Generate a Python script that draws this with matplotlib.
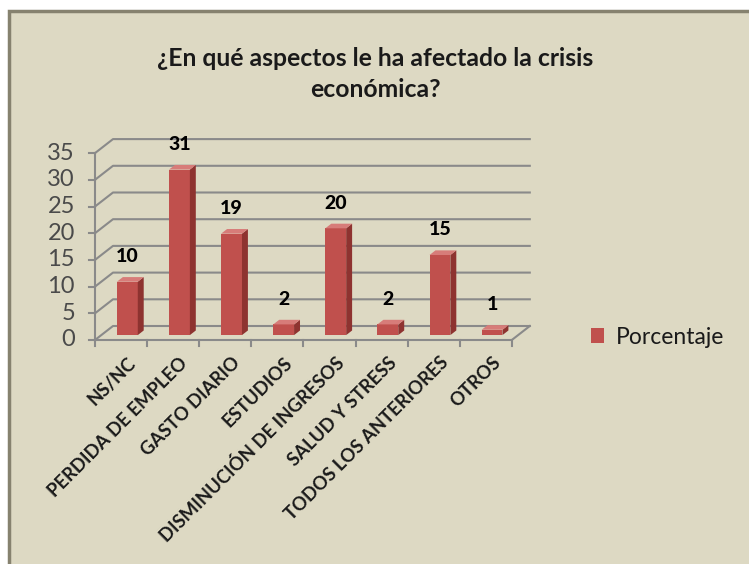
import matplotlib.pyplot as plt
import numpy as np
from matplotlib.patches import Polygon, Rectangle

categories = ["NS/NC", "PERDIDA DE EMPLEO", "GASTO DIARIO", "ESTUDIOS",
              "DISMINUCIÓN DE INGRESOS", "SALUD Y STRESS",
              "TODOS LOS ANTERIORES", "OTROS"]
values = [10, 31, 19, 2, 20, 2, 15, 1]
yticks = [0, 5, 10, 15, 20, 25, 30, 35]
series_name = "Porcentaje"
title = "¿En qué aspectos le ha afectado la crisis\neconómica?"

plt.rcParams['font.family'] = ['Lato', 'DejaVu Sans']

W, H = 749, 564
bg = "#DDD9C3"
grid_c = "#8A8A8A"
red = "#C0504D"
red_side = "#8E3330"
red_top = "#D77C79"

fig = plt.figure(figsize=(W / 100, H / 100), dpi=100)
fig.patch.set_facecolor("white")
fig.patches.append(Rectangle((9 / W, -0.1), 1.2, 1 - 11 / H + 0.1, transform=fig.transFigure,
                             facecolor=bg, edgecolor="#86826F", linewidth=2.5, zorder=-10))

# axes placed in pixels: x=-0.5 -> 95px, 52.1 px per category; y=0 -> 340px, 5.34 px per unit
ax_l, ax_r, ax_t, ax_b = 60, 600, 110, 370
px_x, px_y = 52.1, 5.34
ax = fig.add_axes([ax_l / W, 1 - ax_b / H, (ax_r - ax_l) / W, (ax_b - ax_t) / H])
ax.set_xlim(-0.5 - (95 - ax_l) / px_x, -0.5 + (ax_r - 95) / px_x)
ax.set_ylim(-(ax_b - 340) / px_y, (340 - ax_t) / px_y)
ax.axis("off")
ax.patch.set_alpha(0)

dx, dy = 18 / px_x, 14 / px_y   # depth of the 3d box
x0, x1 = -0.5, len(categories) - 0.5

# walls / gridlines
for v in yticks:
    ax.plot([x0, x0 + dx, x1 + dx], [v, v + dy, v + dy], color=grid_c, lw=1.5, zorder=1)
    ax.plot([x0 - 6 / px_x, x0], [v, v], color=grid_c, lw=1.5, zorder=1)
    ax.text(x0 - 20 / px_x, v, str(v), ha="right", va="center", fontsize=17, color="#4A4A4A")
ax.plot([x0, x0], [0, yticks[-1]], color=grid_c, lw=1.5, zorder=1)
ax.plot([x0, x1, x1 + dx], [0, 0, dy], color=grid_c, lw=1.5, zorder=1)
for b in np.arange(x0, x1 + 0.01, 1.0):
    ax.plot([b, b], [0, -6 / px_y], color=grid_c, lw=1.5, zorder=1)

# bars
f, d, w = 0.35, 0.33, 0.40
xs = np.arange(len(categories))
xb = xs + f * dx
yb = f * dy
ax.bar(xb, values, width=w, bottom=yb, color=red, zorder=3, label=series_name)
for xc, v in zip(xb, values):
    xl, xr, top = xc - w / 2, xc + w / 2, yb + v
    ax.add_patch(Polygon([(xr, yb), (xr + d * dx, yb + d * dy), (xr + d * dx, top + d * dy), (xr, top)],
                         closed=True, facecolor=red_side, edgecolor="none", zorder=3))
    ax.add_patch(Polygon([(xl, top), (xr, top), (xr + d * dx, top + d * dy), (xl + d * dx, top + d * dy)],
                         closed=True, facecolor=red_top, edgecolor="none", zorder=3))
    ax.text(xc, top + d * dy + 12 / px_y, str(v), ha="center", va="bottom", fontsize=14,
            fontweight="black", color="black")

# category labels
for xc, lab in zip(xs, categories):
    ax.text(xc + 6 / px_x, -14 / px_y, lab, ha="right", va="top", rotation=45,
            rotation_mode="anchor", fontsize=13.3, fontweight="bold", color="#1A1A1A")

fig.text(375 / W, 1 - 74 / H, title, ha="center", va="center", fontsize=17.8,
         fontweight="bold", color="#1A1A1A", linespacing=1.45)

fig.legend(loc="center left", bbox_to_anchor=(570 / W, 1 - 337 / H), frameon=False,
           fontsize=16.5, handlelength=0.6, handleheight=0.6, handletextpad=0.5, labelcolor="#1A1A1A")

fig.savefig("out.png", dpi=100, facecolor=fig.get_facecolor())
